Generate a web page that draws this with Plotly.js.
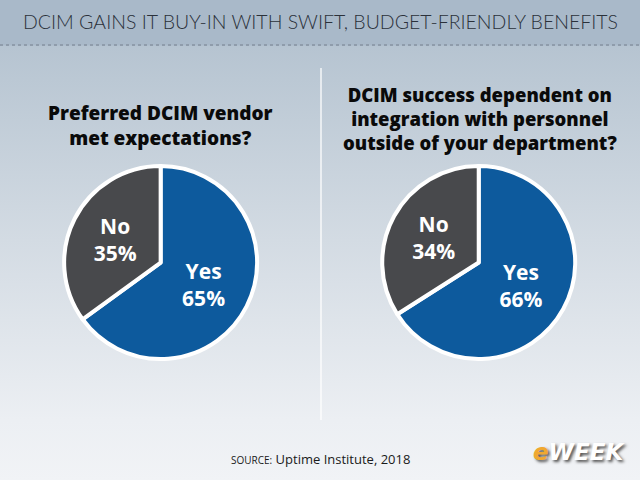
<!DOCTYPE html>
<html>
<head>
<meta charset="utf-8">
<script src="https://cdn.plot.ly/plotly-3.0.1.min.js"></script>
<style>
html,body{margin:0;padding:0;}
#chart{width:640px;height:480px;background:linear-gradient(to bottom,#a9b9c9 0px,#a9b9c9 45px,#b6c4d1 46px,#d3dbe3 240px,#eceff3 420px,#f1f3f6 480px);}
</style>
</head>
<body>
<div id="chart"></div>
<script>
var headerTitle = "DCIM GAINS IT BUY-IN WITH SWIFT, BUDGET-FRIENDLY BENEFITS";
var labels = ["Yes", "No"];
var pie1Title = "Preferred DCIM vendor<br>met expectations?";
var pie1Values = [65, 35];
var pie2Title = "DCIM success dependent on<br>integration with personnel<br>outside of your department?";
var pie2Values = [66, 34];
var colors = ["#0d5a9d", "#48494c"];
var sourceText = "<span style='font-size:10px'>SOURCE:</span> Uptime Institute, 2018";

function pieTrace(values, dx) {
  return {
    type: "pie",
    labels: labels,
    values: values,
    sort: false,
    direction: "clockwise",
    rotation: 0,
    domain: {x: dx, y: [0.252, 0.654]},
    marker: {colors: colors, line: {color: "#ffffff", width: 4}},
    texttemplate: "%{label}<br>%{value}%",
    textposition: "inside",
    insidetextorientation: "horizontal",
    textfont: {family: "Open Sans, sans-serif", size: 21, color: "#ffffff", weight: 700},
    hoverinfo: "none",
    showlegend: false
  };
}

var data = [
  pieTrace(pie1Values, [0.099, 0.403]),
  pieTrace(pie2Values, [0.596, 0.9])
];

var layout = {
  width: 640, height: 480,
  margin: {l: 0, r: 0, t: 0, b: 0},
  paper_bgcolor: "rgba(0,0,0,0)",
  plot_bgcolor: "rgba(0,0,0,0)",
  shapes: [
    {type: "line", xref: "paper", yref: "paper", x0: 0, x1: 1, y0: 1 - 45/480, y1: 1 - 45/480,
     line: {color: "#8f9cab", width: 2, dash: "dot"}},
    {type: "line", xref: "paper", yref: "paper", x0: 321/640, x1: 321/640, y0: 1 - 420/480, y1: 1 - 68/480,
     line: {color: "rgba(255,255,255,0.85)", width: 1.5}}
  ],
  annotations: [
    {text: headerTitle, xref: "paper", yref: "paper", x: 0.5, y: 1 - 22/480, showarrow: false,
     xanchor: "center", yanchor: "middle",
     font: {family: "Lato, sans-serif", size: 19.5, color: "#2b313a", weight: 300}},
    {text: pie1Title, xref: "paper", yref: "paper", x: 160/640, y: 1 - 125/480, showarrow: false,
     xanchor: "center", yanchor: "middle",
     font: {family: "Open Sans, sans-serif", size: 19, color: "#0a0a0a", weight: 800}},
    {text: pie2Title, xref: "paper", yref: "paper", x: 480/640, y: 1 - 118/480, showarrow: false,
     xanchor: "center", yanchor: "middle",
     font: {family: "Open Sans, sans-serif", size: 18.5, color: "#0a0a0a", weight: 800}},
    {text: sourceText, xref: "paper", yref: "paper", x: 320/640, y: 1 - 459/480, showarrow: false,
     xanchor: "center", yanchor: "middle",
     font: {family: "Open Sans, sans-serif", size: 13, color: "#1a1a1a"}},
    {text: "<i><b><span style='color:#f0a830'>e</span>WEEK</b></i>", xref: "paper", yref: "paper",
     x: 579/640, y: 1 - 452/480, showarrow: false, xanchor: "center", yanchor: "middle",
     font: {family: "DejaVu Sans, sans-serif", size: 23, color: "#ffffff", weight: 900,
            shadow: "2px 2px 3px #555"}}
  ]
};

Plotly.newPlot("chart", data, layout, {displayModeBar: false, staticPlot: true});
</script>
</body>
</html>
